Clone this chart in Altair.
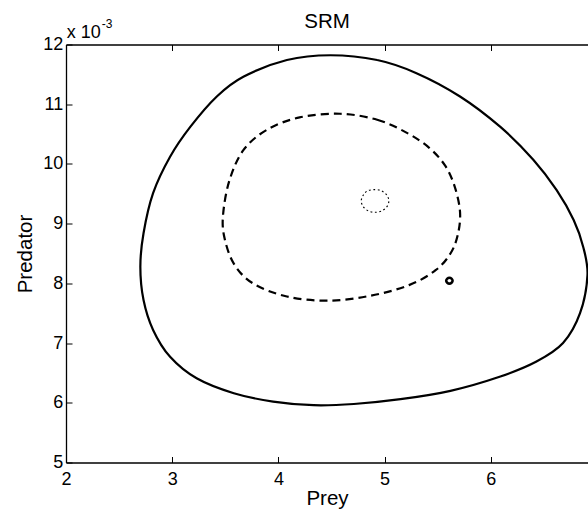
import altair as alt
import pandas as pd

# ---- data (predator values in units of 10^-3) ----
prey_ticks = [2, 3, 4, 5, 6]
pred_ticks = [5, 6, 7, 8, 9, 10, 11, 12]
x_domain = [2, 6.915]
y_domain = [5, 12]

solid_x = [4.49, 4.93, 5.30, 5.71, 6.09, 6.40, 6.62, 6.78, 6.87, 6.91, 6.84, 6.68,
           6.43, 6.09, 5.62, 5.15, 4.71, 4.33, 3.95, 3.58, 3.23, 2.98, 2.82, 2.73,
           2.70, 2.73, 2.82, 2.98, 3.17, 3.42, 3.67, 4.08]
solid_y = [11.82, 11.74, 11.52, 11.13, 10.62, 10.07, 9.56, 9.06, 8.61, 8.14, 7.50, 7.00,
           6.69, 6.44, 6.20, 6.06, 5.98, 5.96, 6.02, 6.16, 6.41, 6.77, 7.22, 7.72,
           8.28, 8.84, 9.51, 10.12, 10.62, 11.13, 11.46, 11.74]

dashed_x = [4.58, 4.93, 5.21, 5.42, 5.57, 5.66, 5.71, 5.69, 5.62, 5.48, 5.23, 4.86,
            4.46, 4.08, 3.76, 3.58, 3.49, 3.48, 3.54, 3.67, 3.89, 4.20]
dashed_y = [10.84, 10.74, 10.52, 10.27, 9.97, 9.62, 9.20, 8.82, 8.50, 8.22, 7.97, 7.79,
            7.71, 7.78, 8.00, 8.33, 8.78, 9.17, 9.73, 10.23, 10.57, 10.78]

dotted_x = [5.04, 5.02, 4.97, 4.91, 4.84, 4.80, 4.78, 4.80, 4.85, 4.91, 4.97, 5.02]
dotted_y = [9.38, 9.48, 9.55, 9.57, 9.55, 9.48, 9.38, 9.28, 9.21, 9.19, 9.21, 9.28]

spot_x = [5.64, 5.63, 5.61, 5.59, 5.58, 5.59, 5.61, 5.63]
spot_y = [8.045, 8.08, 8.095, 8.08, 8.045, 8.01, 7.995, 8.01]

title_text = ["SRM"]
x_title = "Prey"
y_title = "Predator"
exp_base = ["x 10"]
exp_power = ["-3"]

font = "Liberation Sans"
W, H = 522, 418


def frame(xs, ys):
    return pd.DataFrame({"prey": xs, "pred": ys, "k": list(range(len(xs)))})


xs = alt.Scale(domain=x_domain, nice=False, zero=False)
ys = alt.Scale(domain=y_domain, nice=False, zero=False)
inward = {"expr": "-6"}

bottom_axis = alt.Axis(orient="bottom", values=prey_ticks, title=x_title,
                       tickSize=inward, labelPadding=13.9, labelFlush=False,
                       titleBaseline="alphabetic", titleY=41.5)
top_axis = alt.Axis(orient="top", values=prey_ticks, labels=False, title=None,
                    tickSize=inward)
left_axis = alt.Axis(orient="left", values=pred_ticks, title=y_title,
                     tickSize=inward, labelPadding=9.3, labelFlush=False,
                     titleBaseline="alphabetic", titleX=-34.3)


def loop(df, x_axis, **mark):
    return alt.Chart(df).mark_line(interpolate="cardinal-closed", color="black", **mark).encode(
        x=alt.X("prey:Q", scale=xs, axis=x_axis),
        y=alt.Y("pred:Q", scale=ys, axis=left_axis),
        order="k:Q",
    )


def label(texts, size, px, py, align="left"):
    return alt.Chart(pd.DataFrame({"t": texts})).mark_text(
        align=align, baseline="alphabetic", font=font, fontSize=size, color="black"
    ).encode(text="t:N", x=alt.value(px), y=alt.value(py))


solid = loop(frame(solid_x, solid_y), bottom_axis, strokeWidth=2.2)
dotted = loop(frame(dotted_x, dotted_y), bottom_axis, strokeWidth=1.1, strokeDash=[1.8, 2.6])
spot = loop(frame(spot_x, spot_y), bottom_axis, strokeWidth=2.6)
dashed = loop(frame(dashed_x, dashed_y), top_axis, strokeWidth=2.2, strokeDash=[8, 5])

exp1 = label(exp_base, 18, 0.7, -6.2)
exp2 = label(exp_power, 12, 35.7, -17)
ttl = label(title_text, 20.5, W / 2, -16.2, align="center")

inner = alt.layer(solid, dotted, spot)

chart = alt.layer(inner, dashed, exp1, exp2, ttl).properties(
    width=W,
    height=H,
    autosize=alt.AutoSizeParams(type="none"),
    padding={"left": 66, "top": 44.5, "right": 0, "bottom": 48.5},
    background="white",
).configure_view(stroke=None).configure_axis(
    grid=False,
    labelFont=font, labelFontSize=18, labelColor="black",
    titleFont=font, titleFontSize=20.5, titleFontWeight="normal", titleColor="black",
    domainColor="black", domainWidth=1.3, tickColor="black", tickWidth=1,
)

chart.save("out.html", embed_options={"renderer": "svg", "actions": False})
